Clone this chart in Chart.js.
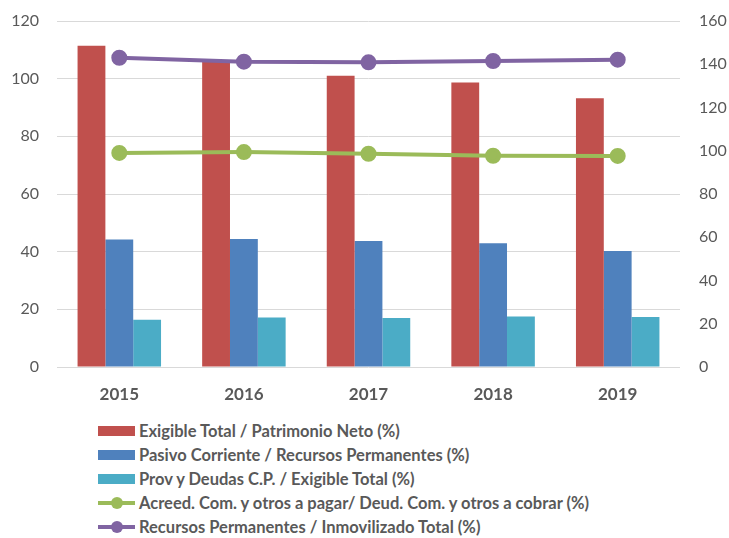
<!DOCTYPE html>
<html>
<head>
<meta charset="utf-8">
<script src="https://cdn.jsdelivr.net/npm/chart.js@4"></script>
<style>
  body { margin: 0; background: #fff; font-family: Lato, sans-serif; }
  #wrap { position: relative; width: 729px; height: 538px; overflow: hidden; }
  #box { position: absolute; left: 0; top: 0; width: 729px; height: 405px; }
  #legend { position: absolute; left: 98px; top: 419px; color: #595959; font-weight: bold; font-size: 16.5px; }
  .item { height: 24px; display: flex; align-items: center; white-space: nowrap; }
  .mark { position: relative; width: 37px; height: 24px; margin-right: 4px; }
  .bar { position: absolute; left: 0; top: 7px; width: 37px; height: 10px; }
  .line { position: absolute; left: 0; top: 10px; width: 37px; height: 4px; }
  .dot { position: absolute; left: 13px; top: 6px; width: 12px; height: 12px; border-radius: 50%; }
</style>
</head>
<body>
<div id="wrap">
  <div id="box"><canvas id="chart"></canvas></div>
  <div id="legend"></div>
</div>
<script>
const years = ['2015', '2016', '2017', '2018', '2019'];

const exigiblePatrimonio = [111.4, 105.8, 101.0, 98.7, 93.2];
const pasivoRecursos = [44.2, 44.4, 43.7, 42.9, 40.2];
const provExigible = [16.4, 17.2, 17.0, 17.5, 17.3];
const acreedDeud = [99.0, 99.4, 98.6, 97.7, 97.6];
const recursosInmov = [143.0, 141.2, 140.9, 141.5, 142.1];

const leftTicks = [0, 20, 40, 60, 80, 100, 120];
const rightTicks = [0, 20, 40, 60, 80, 100, 120, 140, 160];

const grey = '#595959';

// fixed axis widths, no extra room kept for the end labels
function fitY(width) {
    return (s) => {
        s.width = width;
        s.paddingTop = 0;
        s.paddingBottom = 0;
    };
}

const ctx = document.getElementById('chart').getContext('2d');

const chart = new Chart(ctx, {
    data: {
        labels: years,
        datasets: [
            {
                type: 'line',
                label: 'Acreed. Com. y otros a pagar/ Deud. Com. y otros a cobrar (%)',
                data: acreedDeud,
                yAxisID: 'y1',
                borderColor: '#9BBB59',
                backgroundColor: '#9BBB59',
                borderWidth: 4,
                pointRadius: 6,
                pointHoverRadius: 6,
                order: 0
            },
            {
                type: 'line',
                label: 'Recursos Permanentes / Inmovilizado Total (%)',
                data: recursosInmov,
                yAxisID: 'y1',
                borderColor: '#8064A2',
                backgroundColor: '#8064A2',
                borderWidth: 4,
                pointRadius: 6,
                pointHoverRadius: 6,
                order: 0
            },
            {
                type: 'bar',
                label: 'Exigible Total / Patrimonio Neto (%)',
                data: exigiblePatrimonio,
                yAxisID: 'y',
                backgroundColor: '#C0504D',
                order: 1
            },
            {
                type: 'bar',
                label: 'Pasivo Corriente / Recursos Permanentes (%)',
                data: pasivoRecursos,
                yAxisID: 'y',
                backgroundColor: '#4F81BD',
                order: 1
            },
            {
                type: 'bar',
                label: 'Prov y Deudas C.P. / Exigible Total (%)',
                data: provExigible,
                yAxisID: 'y',
                backgroundColor: '#4BACC6',
                order: 1
            }
        ]
    },
    options: {
        responsive: true,
        maintainAspectRatio: false,
        animation: false,
        layout: { padding: { top: 21, left: 0, right: 0, bottom: 0 } },
        datasets: {
            bar: { categoryPercentage: 0.67, barPercentage: 1.0 }
        },
        plugins: {
            legend: { display: false },
            tooltip: { enabled: false }
        },
        scales: {
            x: {
                grid: { display: false, drawTicks: false },
                border: { display: false },
                afterFit: (s) => { s.height = 38; },
                ticks: {
                    color: grey,
                    padding: 17,
                    font: { family: 'Lato', size: 17, weight: 'bold' }
                }
            },
            y: {
                position: 'left',
                min: 0,
                max: 120,
                afterBuildTicks: (s) => { s.ticks = leftTicks.map(v => ({ value: v })); },
                afterFit: fitY(57),
                grid: { color: '#D9D9D9', lineWidth: 1, drawTicks: false },
                border: { display: false },
                ticks: {
                    color: grey,
                    padding: 18,
                    font: { family: 'Lato', size: 16 }
                }
            },
            y1: {
                position: 'right',
                min: 0,
                max: 160,
                afterBuildTicks: (s) => { s.ticks = rightTicks.map(v => ({ value: v })); },
                afterFit: fitY(49),
                grid: { display: false, drawTicks: false },
                border: { display: false },
                ticks: {
                    color: grey,
                    padding: 19,
                    font: { family: 'Lato', size: 16 }
                }
            }
        }
    }
});

// legend in the reference order: bars first, then lines
const legendOrder = [2, 3, 4, 0, 1];
const legend = document.getElementById('legend');
legendOrder.forEach(i => {
    const ds = chart.data.datasets[i];
    const item = document.createElement('div');
    item.className = 'item';
    const mark = document.createElement('span');
    mark.className = 'mark';
    if (ds.type === 'bar') {
        mark.innerHTML = '<span class="bar" style="background:' + ds.backgroundColor + '"></span>';
    } else {
        mark.innerHTML = '<span class="line" style="background:' + ds.borderColor + '"></span>' +
            '<span class="dot" style="background:' + ds.borderColor + '"></span>';
    }
    const text = document.createElement('span');
    text.textContent = ds.label;
    item.appendChild(mark);
    item.appendChild(text);
    legend.appendChild(item);
});
</script>
</body>
</html>
